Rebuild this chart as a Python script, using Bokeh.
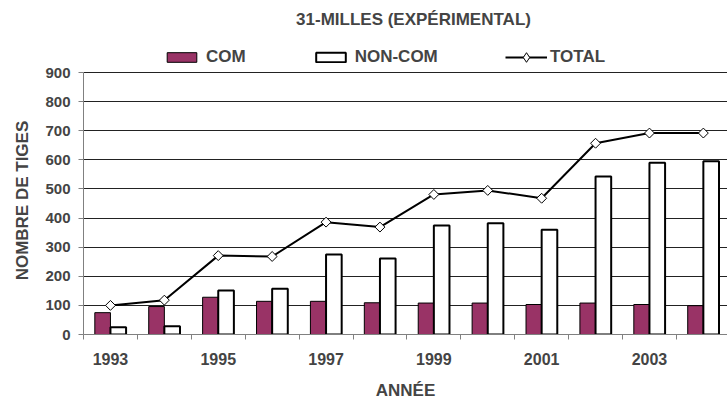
import math
from bokeh.plotting import figure
from bokeh.models import (ColumnDataSource, Range1d, FixedTicker, Legend,
                          LegendItem, Label)
from bokeh.transform import dodge
from bokeh.embed import file_html
from bokeh.resources import INLINE

# ---- data ----
years = ["1993", "1994", "1995", "1996", "1997", "1998",
         "1999", "2000", "2001", "2002", "2003", "2004"]
com = [75, 96, 128, 114, 114, 109, 108, 108, 103, 108, 103, 99]
non_com = [25, 28, 151, 157, 275, 261, 374, 382, 360, 543, 590, 595]
total = [100, 118, 271, 268, 386, 369, 481, 495, 468, 657, 692, 692]
y_ticks = [0, 100, 200, 300, 400, 500, 600, 700, 800, 900]

title_text = "31-MILLES (EXPÉRIMENTAL)"
x_title = "ANNÉE"
y_title = "NOMBRE DE TIGES"

FONT = "Liberation Sans"
idx = list(range(len(years)))
src = ColumnDataSource(dict(x=idx, com=com, noncom=non_com, total=total))

# frame spans from the top of the canvas so title/legend can live inside it
FRAME_H = 334
PLOT_H = 262  # pixels used by 0..900
y_top = 900 * FRAME_H / PLOT_H

p = figure(width=727, height=404, output_backend="svg", toolbar_location=None,
           x_range=Range1d(-0.5, 11.448), y_range=Range1d(0, y_top),
           min_border_left=83, min_border_right=0, min_border_top=0,
           min_border_bottom=70)
p.outline_line_color = None
p.background_fill_color = "white"
p.border_fill_color = "white"

r_com = p.vbar(x=dodge("x", -0.145), top="com", width=0.29, source=src,
               fill_color="#993366", line_color="black", line_width=1)
r_nc = p.vbar(x=dodge("x", 0.145), top="noncom", width=0.29, source=src,
              fill_color="white", line_color="black", line_width=2)
r_line = p.line(x="x", y="total", source=src, line_color="black", line_width=2)
# diamond marker used for the legend swatch (tiny, hidden beneath the main markers)
r_leg = p.scatter(x="x", y="total", source=src, marker="diamond", size=3,
                  fill_color="white", line_color="black", line_width=1)
r_sc = p.scatter(x="x", y="total", source=src, marker="square", angle=math.pi / 4,
                 size=7, fill_color="white", line_color="black", line_width=1)

# y axis
ya = p.yaxis[0]
ya.ticker = FixedTicker(ticks=y_ticks)
ya.bounds = (0, 900)
ya.axis_line_color = "#808080"
ya.major_tick_line_color = "#808080"
ya.major_tick_out = 5
ya.major_tick_in = 0
ya.minor_tick_out = 0
ya.minor_tick_in = 0
ya.major_label_text_font = FONT
ya.major_label_text_font_style = "bold"
ya.major_label_text_font_size = "15px"
ya.major_label_standoff = 8
# trailing no-break spaces shift the centred label down to the 0..900 span
ya.axis_label = y_title + "\u00a0" * 14
ya.axis_label_text_font = FONT
ya.axis_label_text_font_style = "bold"
ya.axis_label_text_font_size = "17px"
ya.axis_label_standoff = 10

# x axis
xa = p.xaxis[0]
xa.ticker = FixedTicker(ticks=idx[::2], minor_ticks=[i - 0.5 for i in range(len(years) + 1)])
xa.major_label_overrides = {i: years[i] for i in idx[::2]}
xa.axis_line_color = "#808080"
xa.major_tick_out = 0
xa.major_tick_in = 0
xa.minor_tick_out = 5
xa.minor_tick_in = 0
xa.minor_tick_line_color = "#808080"
xa.major_label_text_font = FONT
xa.major_label_text_font_style = "bold"
xa.major_label_text_font_size = "16px"
xa.major_label_standoff = 13
xa.axis_label = x_title
xa.axis_label_text_font = FONT
xa.axis_label_text_font_style = "bold"
xa.axis_label_text_font_size = "17px"
xa.axis_label_standoff = 13

p.xgrid.grid_line_color = None
p.ygrid.grid_line_color = "#222222"
p.ygrid.grid_line_width = 1

leg_style = dict(orientation="horizontal", padding=0, margin=0,
                 border_line_color=None, background_fill_alpha=0,
                 label_text_font=FONT, label_text_font_style="bold",
                 label_text_font_size="17px")
legend_bars = Legend(items=[LegendItem(label="COM", renderers=[r_com]),
                            LegendItem(label="NON-COM", renderers=[r_nc])],
                     location=(80, 267), glyph_width=37, glyph_height=12,
                     label_standoff=6, spacing=66, **leg_style)
legend_total = Legend(items=[LegendItem(label="TOTAL", renderers=[r_line, r_leg])],
                      location=(422, 265), glyph_width=42, glyph_height=24,
                      label_standoff=3, **leg_style)
p.add_layout(legend_bars)
p.add_layout(legend_total)

p.add_layout(Label(x=330, y=315, x_units="screen", y_units="screen",
                   text=title_text, text_align="center", text_baseline="middle",
                   text_font=FONT, text_font_style="bold", text_font_size="17px"))

open("out.html", "w").write(file_html(p, INLINE))
